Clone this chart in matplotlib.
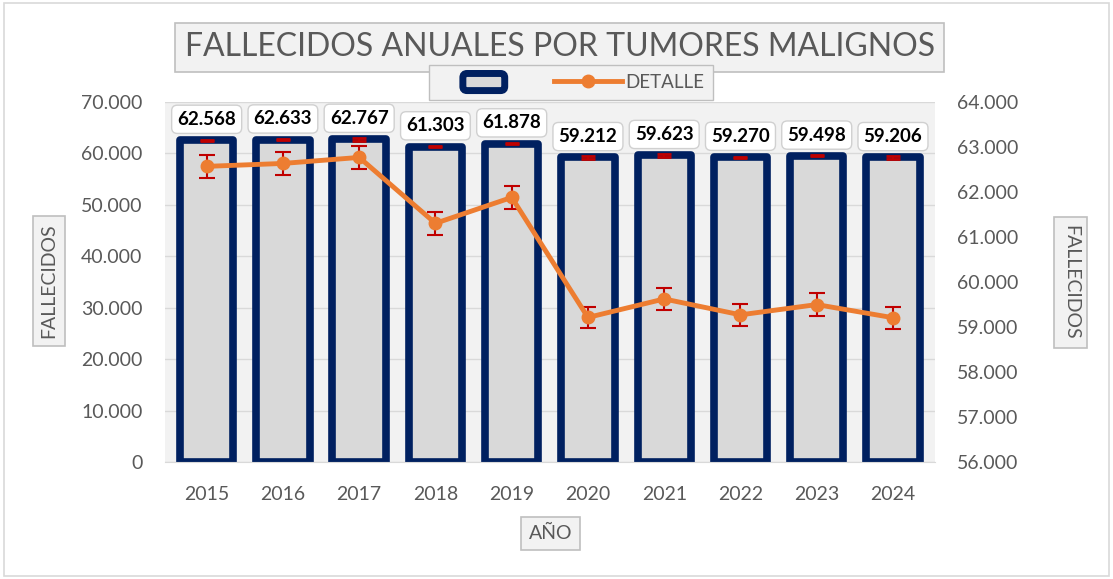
import numpy as np
import matplotlib
matplotlib.use("Agg")
import matplotlib.pyplot as plt
from matplotlib.patches import Patch, Rectangle, FancyBboxPatch
from matplotlib.lines import Line2D
from matplotlib.legend_handler import HandlerPatch
from matplotlib.ticker import FuncFormatter, MultipleLocator

# datos
anios = ["2015", "2016", "2017", "2018", "2019", "2020", "2021", "2022", "2023", "2024"]
fallecidos = [62568, 62633, 62767, 61303, 61878, 59212, 59623, 59270, 59498, 59206]
error_barras = [100, 100, 300, 100, 100, 300, 300, 100, 100, 300]
error_linea = [250, 250, 260, 250, 250, 240, 240, 240, 250, 240]

NAVY = "#002060"
ORANGE = "#ED7D31"
GRIS_TXT = "#595959"
CAJA = dict(boxstyle="square,pad=0.4", facecolor="#f2f2f2", edgecolor="#bfbfbf", linewidth=1.2)

plt.rcParams["font.family"] = ["Lato", "DejaVu Sans"]


def miles(v, pos=None):
    return f"{int(round(v)):,}".replace(",", ".")


def caja_leyenda(legend, orig_handle, xdescent, ydescent, width, height, fontsize):
    # rectangulo redondeado mas pequeño, centrado en el hueco del handle
    w, h = width * 0.62, height * 0.95
    x0 = -xdescent + width - w
    y0 = -ydescent + (height - h) / 2
    return FancyBboxPatch((x0, y0), w, h, boxstyle="round,pad=0,rounding_size=3")


fig = plt.figure(figsize=(11.13, 5.79), dpi=100)
fig.patches.append(Rectangle((0.004, 0.005), 0.992, 0.99, transform=fig.transFigure,
                             fill=False, edgecolor="#d9d9d9", linewidth=1.2))

ax = fig.add_axes([0.148, 0.202, 0.692, 0.622])
ax.set_facecolor("#f2f2f2")
x = np.arange(len(anios))

ax.bar(x, fallecidos, width=0.7, color="#d9d9d9", edgecolor=NAVY, linewidth=5.5,
       joinstyle="round", zorder=2)
ax.errorbar(x, fallecidos, yerr=error_barras, fmt="none", ecolor="#C00000",
            elinewidth=1.5, capsize=5, capthick=2, zorder=3)

for xi, v in zip(x, fallecidos):
    ax.annotate(miles(v), (xi, v), xytext=(0, 15), textcoords="offset points",
                ha="center", va="center", fontsize=13.5, fontweight="bold", color="black",
                bbox=dict(boxstyle="round,pad=0.3,rounding_size=0.3", facecolor="white",
                          edgecolor="#d0d0d0", linewidth=1), zorder=6)

ax.set_ylim(0, 70000)
ax.set_xlim(-0.55, len(anios) - 0.45)
ax.yaxis.set_major_locator(MultipleLocator(10000))
ax.yaxis.set_major_formatter(FuncFormatter(miles))
ax.grid(axis="y", color="#d9d9d9", linewidth=1, zorder=0)
ax.set_axisbelow(True)
ax.set_xticks(x)
ax.set_xticklabels(anios)
for s in ["top", "right", "left"]:
    ax.spines[s].set_visible(False)
ax.spines["bottom"].set_color("#d9d9d9")
ax.tick_params(axis="both", length=0, labelsize=14, colors=GRIS_TXT, pad=16)
ax.tick_params(axis="x", pad=17)

ax2 = ax.twinx()
ax2.errorbar(x, fallecidos, yerr=error_linea, color=ORANGE, linewidth=3.5, marker="o",
             markersize=9, ecolor="#C00000", elinewidth=1.5, capsize=6, capthick=1.5, zorder=4)
ax2.set_ylim(56000, 64000)
ax2.yaxis.set_major_locator(MultipleLocator(1000))
ax2.yaxis.set_major_formatter(FuncFormatter(miles))
for s in ax2.spines.values():
    s.set_visible(False)
ax2.tick_params(axis="y", length=0, labelsize=14, colors=GRIS_TXT, pad=16)

fig.text(0.503, 0.918, "FALLECIDOS ANUALES POR TUMORES MALIGNOS", ha="center", va="center",
         fontsize=23, color=GRIS_TXT,
         bbox=dict(boxstyle="square,pad=0.3", facecolor="#f2f2f2", edgecolor="#bfbfbf", linewidth=1.2))
fig.text(0.044, 0.515, "FALLECIDOS", rotation=90, ha="center", va="center",
         fontsize=14, color=GRIS_TXT, bbox=CAJA)
fig.text(0.962, 0.512, "FALLECIDOS", rotation=270, ha="center", va="center",
         fontsize=14, color=GRIS_TXT, bbox=CAJA)
fig.text(0.495, 0.079, "AÑO", ha="center", va="center",
         fontsize=14, color=GRIS_TXT, bbox=CAJA)

handles = [Patch(facecolor="#d9d9d9", edgecolor=NAVY, linewidth=5),
           Line2D([], [], color=ORANGE, linewidth=3.5, marker="o", markersize=9)]
leg = fig.legend(handles, [" ", "DETALLE"], loc="center", bbox_to_anchor=(0.513, 0.858),
                 ncol=2, fontsize=13.5, frameon=True, fancybox=False, handlelength=3.6,
                 handleheight=1.1, columnspacing=2.2, handletextpad=0.2, borderpad=0.45,
                 borderaxespad=0, handler_map={Patch: HandlerPatch(patch_func=caja_leyenda)})
leg.get_frame().set_facecolor("#f2f2f2")
leg.get_frame().set_edgecolor("#bfbfbf")
leg.get_frame().set_alpha(1)
for t in leg.get_texts():
    t.set_color(GRIS_TXT)

fig.savefig("out.png", dpi=100)
